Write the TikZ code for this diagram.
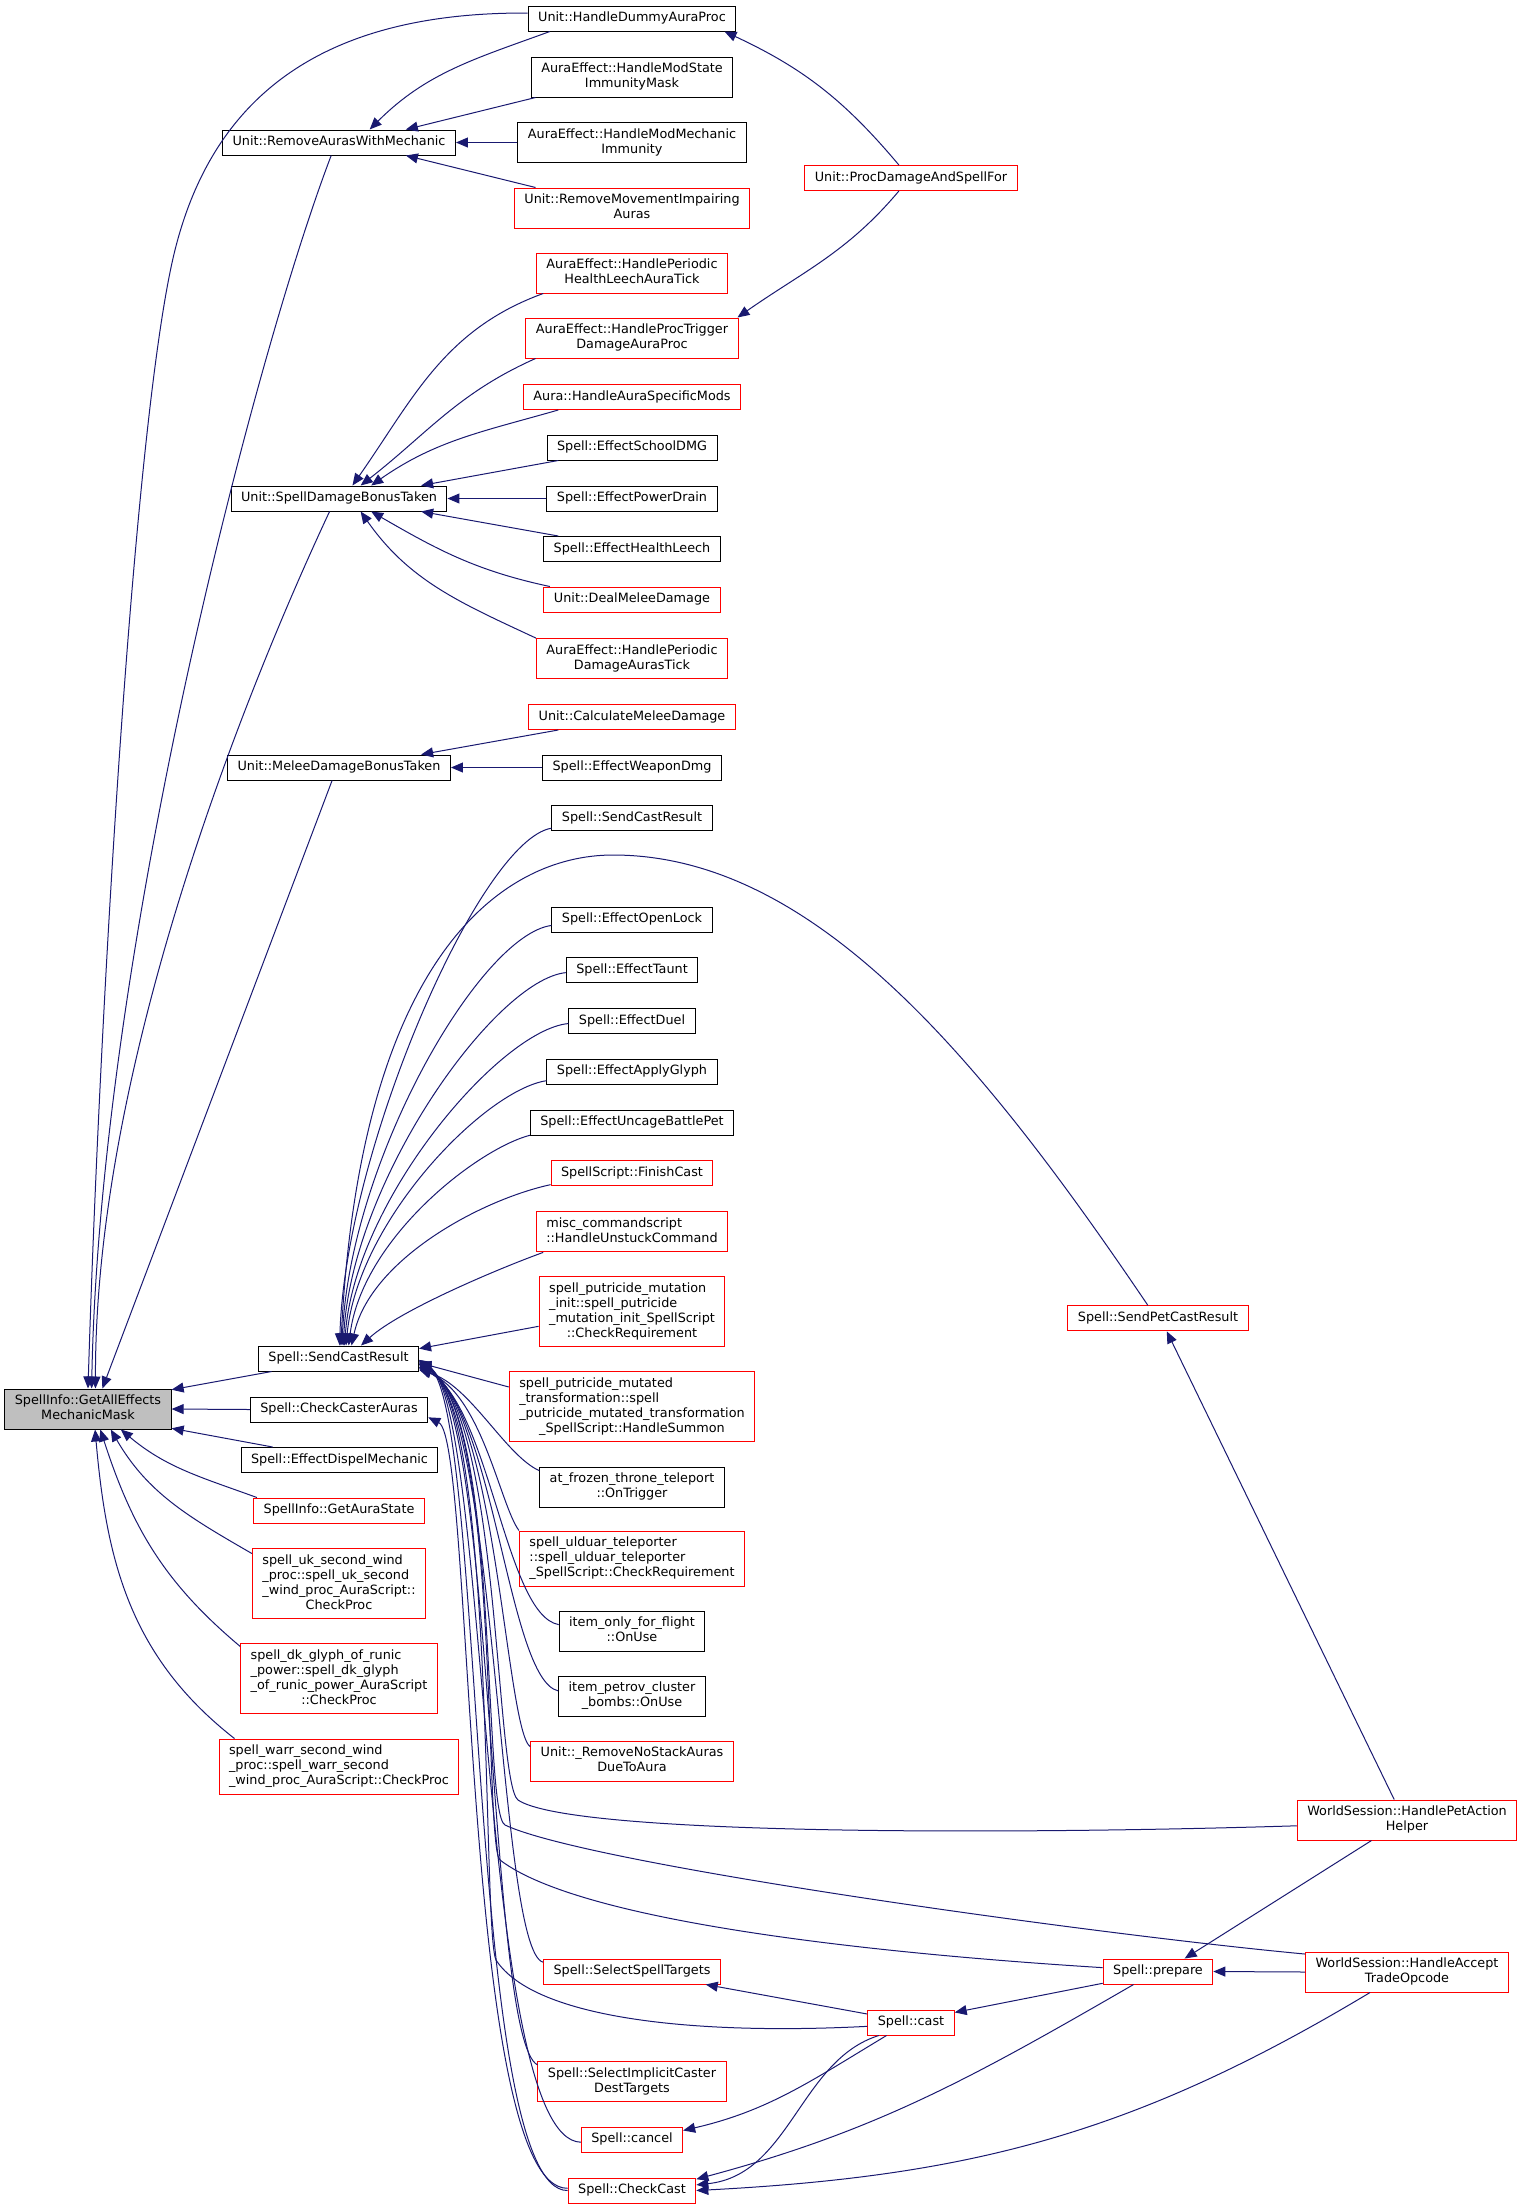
\documentclass[tikz,border=0pt]{standalone}
\usepackage{fontspec}
\setmainfont{DejaVu Sans}
\usepackage{tikz}
\usetikzlibrary{arrows.meta}
\definecolor{edgeblue}{HTML}{191970}
\definecolor{boxred}{HTML}{FF0000}
\definecolor{rootgray}{HTML}{BFBFBF}
\newcommand{\fnlines}[1]{\begin{tabular}{@{}c@{}}#1\end{tabular}}
\newcommand{\fnleft}[2]{\begin{tabular}{@{}l@{}}#1\\\multicolumn{1}{@{}c@{}}{#2}\end{tabular}}

\begin{document}
\begin{tikzpicture}[
    x=1pt, y=1pt,
    fn/.style={draw=black, line width=1pt, fill=white, font={\fontsize{12.8}{15}\selectfont}, inner xsep=10pt, inner ysep=5pt, execute at begin node=\strut},
    fnred/.style={fn, draw=boxred},
    fnroot/.style={fn, fill=rootgray},
    call/.style={-{Triangle[length=12pt,width=10pt]}, draw=edgeblue, line width=1pt}
]
\useasboundingbox (0,0) rectangle (1523,-2209);

\node[fnroot] (root) at (88,-1409) {\fnlines{SpellInfo::GetAllEffects\\MechanicMask}};

\node[fn] (rawm) at (339,-142.5) {Unit::RemoveAurasWithMechanic};
\node[fn] (sdbt) at (339,-498.5) {Unit::SpellDamageBonusTaken};
\node[fn] (mdbt) at (339,-767.5) {Unit::MeleeDamageBonusTaken};
\node[fn] (scr) at (338.5,-1358.5) {Spell::SendCastResult};
\node[fn] (cca) at (339,-1409.5) {Spell::CheckCasterAuras};
\node[fn] (edm) at (339.5,-1460) {Spell::EffectDispelMechanic};
\node[fnred] (gas) at (339,-1510.5) {SpellInfo::GetAuraState};
\node[fnred] (uk) at (339,-1583.5) {\fnleft{spell\_uk\_second\_wind\\\_proc::spell\_uk\_second\\\_wind\_proc\_AuraScript::}{CheckProc}};
\node[fnred] (dk) at (339,-1678.5) {\fnleft{spell\_dk\_glyph\_of\_runic\\\_power::spell\_dk\_glyph\\\_of\_runic\_power\_AuraScript}{::CheckProc}};
\node[fnred] (warr) at (339,-1766.5) {\fnleft{spell\_warr\_second\_wind\\\_proc::spell\_warr\_second}{\_wind\_proc\_AuraScript::CheckProc}};

\node[fn] (dummy) at (632,-18.5) {Unit::HandleDummyAuraProc};
\node[fn] (hms) at (632,-77) {\fnlines{AuraEffect::HandleModState\\ImmunityMask}};
\node[fn] (hmm) at (632,-142.5) {\fnlines{AuraEffect::HandleModMechanic\\Immunity}};
\node[fnred] (rmi) at (632,-208) {\fnlines{Unit::RemoveMovementImpairing\\Auras}};
\node[fnred] (hlat) at (632,-273) {\fnlines{AuraEffect::HandlePeriodic\\HealthLeechAuraTick}};
\node[fnred] (ptr) at (632,-338) {\fnlines{AuraEffect::HandleProcTrigger\\DamageAuraProc}};
\node[fnred] (hasm) at (632,-397) {Aura::HandleAuraSpecificMods};
\node[fn] (esd) at (632,-447.5) {Spell::EffectSchoolDMG};
\node[fn] (epd) at (632,-498.5) {Spell::EffectPowerDrain};
\node[fn] (ehl) at (632,-549) {Spell::EffectHealthLeech};
\node[fnred] (dmd) at (632,-599.5) {Unit::DealMeleeDamage};
\node[fnred] (hpd) at (632,-658.5) {\fnlines{AuraEffect::HandlePeriodic\\DamageAurasTick}};
\node[fnred] (cmd) at (632,-717) {Unit::CalculateMeleeDamage};
\node[fn] (ewd) at (632,-767.5) {Spell::EffectWeaponDmg};
\node[fn] (scr2) at (632,-818.3) {Spell::SendCastResult};
\node[fn] (eol) at (632,-919.8) {Spell::EffectOpenLock};
\node[fn] (eta) at (632,-970.3) {Spell::EffectTaunt};
\node[fn] (edu) at (632,-1021.3) {Spell::EffectDuel};
\node[fn] (eag) at (632,-1071.7) {Spell::EffectApplyGlyph};
\node[fn] (eub) at (632,-1122.7) {Spell::EffectUncageBattlePet};
\node[fnred] (fca) at (632,-1173.2) {SpellScript::FinishCast};
\node[fnred] (muc) at (632,-1231.9) {\fnleft{misc\_commandscript}{::HandleUnstuckCommand}};
\node[fnred] (pmi) at (632,-1311.5) {\fnleft{spell\_putricide\_mutation\\\_init::spell\_putricide\\\_mutation\_init\_SpellScript}{::CheckRequirement}};
\node[fnred] (pmt) at (632,-1406.5) {\fnleft{spell\_putricide\_mutated\\\_transformation::spell\\\_putricide\_mutated\_transformation}{\_SpellScript::HandleSummon}};
\node[fn] (atf) at (632,-1487) {\fnlines{at\_frozen\_throne\_teleport\\::OnTrigger}};
\node[fnred] (uld) at (632,-1558.5) {\fnleft{spell\_ulduar\_teleporter\\::spell\_ulduar\_teleporter}{\_SpellScript::CheckRequirement}};
\node[fn] (iof) at (632,-1631) {\fnlines{item\_only\_for\_flight\\::OnUse}};
\node[fn] (ipc) at (632,-1696) {\fnlines{item\_petrov\_cluster\\\_bombs::OnUse}};
\node[fnred] (rns) at (632,-1761) {\fnlines{Unit::\_RemoveNoStackAuras\\DueToAura}};
\node[fnred] (sst) at (632,-1971.5) {Spell::SelectSpellTargets};
\node[fnred] (sic) at (632,-2081.5) {\fnlines{Spell::SelectImplicitCaster\\DestTargets}};
\node[fnred] (can) at (632,-2139.5) {Spell::cancel};
\node[fnred] (cc) at (632,-2190.5) {Spell::CheckCast};

\node[fnred] (pdsf) at (911,-178) {Unit::ProcDamageAndSpellFor};
\node[fnred] (cst) at (911,-2022.5) {Spell::cast};
\node[fnred] (spcr) at (1158,-1318.3) {Spell::SendPetCastResult};
\node[fnred] (prp) at (1158,-1971.5) {Spell::prepare};
\node[fnred] (hpah) at (1407,-1820) {\fnlines{WorldSession::HandlePetAction\\Helper}};
\node[fnred] (hato) at (1407,-1972) {\fnlines{WorldSession::HandleAccept\\TradeOpcode}};

\draw[call] (dummy.177) .. controls (330,-12) and (215,-90) .. (175,-250) .. controls (135,-410) and (100,-1000) .. (root.90);
\draw[call] (rawm.239) .. controls (255,-355) and (100,-950) .. (root.80);
\draw[call] (sdbt.234) .. controls (260,-660) and (95,-1050) .. (root.70);
\draw[call] (mdbt.242) -- (root.55);
\draw[call] (scr.191) -- (root.13);
\draw[call] (cca.west) -- (root.east);
\draw[call] (edm.169) -- (root.-13);
\draw[call] (gas.171) to[out=160,in=-40] (root.-32);
\draw[call] (uk.161) to[out=150,in=-60] (root.-42);
\draw[call] (dk.162) to[out=140,in=-72] (root.-59);
\draw[call] (warr.165) to[out=142,in=-85] (root.-71);

\draw[call] (dummy.189) to[out=200,in=45] (rawm.23);
\draw[call] (hms.192) -- (rawm.11);
\draw[call] (hmm.west) -- (rawm.east);
\draw[call] (rmi.168) -- (rawm.-11);

\draw[call] (pdsf.133) to[out=130,in=-25] (dummy.-8);
\draw[call] (pdsf.-133) to[out=-130,in=35] (ptr.11);

\draw[call] (hlat.193) to[out=200,in=55] (sdbt.44);
\draw[call] (ptr.192) to[out=204,in=38] (sdbt.31);
\draw[call] (hasm.190) to[out=196,in=35] (sdbt.22);
\draw[call] (esd.190) -- (sdbt.9);
\draw[call] (epd.west) -- (sdbt.east);
\draw[call] (ehl.170) -- (sdbt.-9);
\draw[call] (dmd.171) to[out=168,in=-30] (sdbt.-22);
\draw[call] (hpd.168) to[out=155,in=-55] (sdbt.-31);

\draw[call] (cmd.190) -- (mdbt.9);
\draw[call] (ewd.west) -- (mdbt.east);

\draw[call] (scr2.187) .. controls (480,-840) and (345,-1150) .. (scr.85);
\draw[call] (spcr.128) .. controls (980,-1057) and (813,-855) .. (613,-855) .. controls (500,-855) and (360,-960) .. (scr.80);
\draw[call] (eol.184) .. controls (480,-935) and (350,-1160) .. (scr.75);
\draw[call] (eta.182) .. controls (495,-980) and (352,-1180) .. (scr.70);
\draw[call] (edu.182) .. controls (500,-1030) and (355,-1200) .. (scr.65);
\draw[call] (eag.186) .. controls (485,-1090) and (358,-1220) .. (scr.60);
\draw[call] (eub.187) .. controls (475,-1150) and (362,-1240) .. (scr.52);
\draw[call] (fca.188) .. controls (480,-1200) and (370,-1260) .. (scr.45);
\draw[call] (muc.193) .. controls (500,-1268) and (400,-1310) .. (scr.30);
\draw[call] (pmi.189) -- (scr.7);
\draw[call] (pmt.171) -- (scr.-3);

\draw[call] (atf.170) .. controls (505,-1455) and (470,-1385) .. (scr.-8);
\draw[call] (uld.north west) .. controls (500,-1505) and (482,-1395) .. (scr.-7);
\draw[call] (iof.175) .. controls (505,-1615) and (490,-1405) .. (scr.-6);
\draw[call] (ipc.176) .. controls (508,-1680) and (494,-1405) .. (scr.-6);
\draw[call] (rns.172) .. controls (506,-1730) and (496,-1405) .. (scr.-5);
\draw[call] (hpah.183) .. controls (1000,-1835) and (570,-1835) .. (518,-1800) .. controls (495,-1782) and (500,-1410) .. (scr.-4);
\draw[call] (hato.170) .. controls (1100,-1935) and (590,-1865) .. (505,-1825) .. controls (482,-1813) and (500,-1410) .. (scr.-4);
\draw[call] (prp.176) .. controls (900,-1955) and (585,-1925) .. (500,-1860) .. controls (484,-1848) and (500,-1410) .. (scr.-3);
\draw[call] (sst.174) .. controls (498,-1950) and (498,-1410) .. (scr.-3);
\draw[call] (cst.185) .. controls (700,-2035) and (535,-2020) .. (496,-1960) .. controls (482,-1930) and (496,-1410) .. (scr.-2);
\draw[call] (sic.170) .. controls (488,-2040) and (495,-1410) .. (scr.-2);
\draw[call] (can.183) .. controls (478,-2140) and (490,-1405) .. (scr.-1);
\draw[call] (cc.180) .. controls (466,-2192) and (486,-1405) .. (scr.-1);
\draw[call] (cc.178) .. controls (462,-2190) and (474,-1440) .. (cca.-5);

\draw[call] (hpah.122) -- (spcr.-56);
\draw[call] (hpah.210) -- (prp.26);
\draw[call] (hato.west) -- (prp.east);
\draw[call] (hato.209) to[out=211,in=3] (cc.0);
\draw[call] (prp.208) to[out=210,in=15] (cc.10);
\draw[call] (prp.192) -- (cst.13);
\draw[call] (cst.169) -- (sst.-10);
\draw[call] (cst.208) to[out=211,in=13] (can.10);
\draw[call] (cst.202) .. controls (800,-2060) and (790,-2175) .. (cc.5);

\end{tikzpicture}
\end{document}
